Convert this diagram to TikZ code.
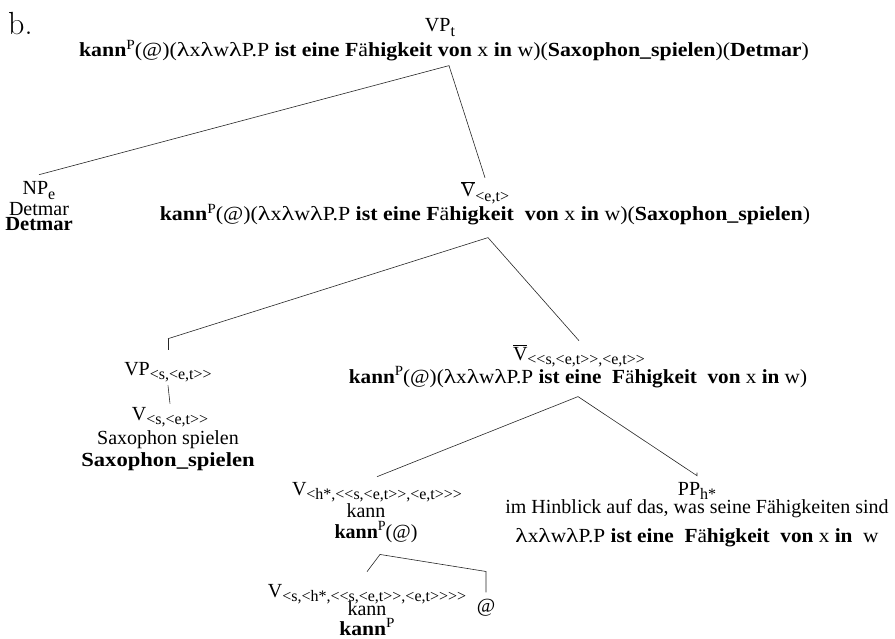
\documentclass[tikz,border=0pt]{standalone}
\usepackage{graphicx}
\usepackage{fontspec}
\setmainfont{Liberation Serif}
\newfontfamily\lmroman{Latin Modern Roman}

% small lowered / raised annotations for categories and the P superscript
\newcommand{\lowsub}[1]{\raisebox{-0.24em}{\fontsize{16}{16}\selectfont #1}}
\newcommand{\upsup}[1]{\raisebox{0.38em}{\fontsize{14}{14}\selectfont #1}}
\newcommand{\Vbar}{\ensuremath{\overline{\mbox{V}}}}
\newcommand{\Faeh}{\textbf{F}ä\textbf{higkeit}}
\newcommand{\lam}{\scalebox{1.2}[1]{λ}}
% horizontally widened line
\newcommand{\wide}[2]{\scalebox{#1}[1]{#2}}

\begin{document}
\begin{tikzpicture}[x=1pt, y=-1pt,
  font=\fontsize{20}{24}\selectfont,
  lbl/.style={anchor=base, inner sep=3pt},
  edge/.style={draw=black!85, line width=0.6pt, line join=miter}]
\useasboundingbox (0,0) rectangle (895,639);

% example label
\node[anchor=base west, inner sep=0pt, font=\lmroman\fontsize{32}{32}\selectfont] (ex) at (8,35) {b.};

% root
\node[lbl] (c1) at (440,32) {VP\lowsub{t}};
\node[lbl] (s1) at (444,57) {\wide{1.093}{\textbf{kann}\upsup{P}(@)(\lam x\lam w\lam P.P \textbf{ist eine} \Faeh\ \textbf{von} x \textbf{in} w)(\textbf{Saxophon\_spielen})(\textbf{Detmar})}};

% subject
\node[lbl] (np) at (39,195) {NP\lowsub{e}};
\node[lbl] (npw) at (39,216) {Detmar};
\node[lbl] (nps) at (39,231) {\wide{1.03}{\textbf{Detmar}}};

% V-bar <e,t>
\node[lbl] (vb1) at (485,197) {\Vbar\lowsub{<{}e,t>}};
\node[lbl] (s2) at (485,221) {\wide{1.095}{\textbf{kann}\upsup{P}(@)(\lam x\lam w\lam P.P \textbf{ist eine} \Faeh\ \ \textbf{von} x \textbf{in} w)(\textbf{Saxophon\_spielen})}};

% VP <s,<e,t>>
\node[lbl] (vp2) at (168,375) {VP\lowsub{<{}s,<{}e,t>{}>}};
\node[lbl] (v2) at (170,420) {V\lowsub{<{}s,<{}e,t>{}>}};
\node[lbl] (v2w) at (168,444) {Saxophon spielen};
\node[lbl] (v2s) at (168,466) {\wide{1.13}{\textbf{Saxophon\_spielen}}};

% V-bar <<s,<e,t>>,<e,t>>
\node[lbl] (vb2) at (579,360) {\Vbar\lowsub{<{}<{}s,<{}e,t>{}>,<{}e,t>{}>}};
\node[lbl] (s3) at (578,383) {\wide{1.06}{\textbf{kann}\upsup{P}(@)(\lam x\lam w\lam P.P \textbf{ist eine}\ \ \Faeh\ \ \textbf{von} x \textbf{in} w)}};

% modal verb with its argument
\node[lbl] (v3) at (377,495) {V\lowsub{<{}h*,<{}<{}s,<{}e,t>{}>,<{}e,t>{}>{}>}};
\node[lbl] (v3w) at (366,517) {kann};
\node[lbl] (v3s) at (376,538) {\textbf{kann}\upsup{P}(@)};

% PP h*
\node[lbl] (pp) at (697,495) {PP\lowsub{h*}};
\node[lbl] (ppw) at (697,513) {im Hinblick auf das, was seine Fähigkeiten sind};
\node[lbl] (pps) at (697,542) {\wide{1.065}{\lam x\lam w\lam P.P \textbf{ist eine}\ \ \Faeh\ \ \textbf{von} x \textbf{in}\ \ w}};

% lowest level
\node[lbl] (v4) at (367,597) {V\lowsub{<{}s,<{}h*,<{}<{}s,<{}e,t>{}>,<{}e,t>{}>{}>{}>}};
\node[lbl] (v4w) at (367,615) {kann};
\node[lbl] (v4s) at (367,635) {\wide{1.08}{\textbf{kann}\upsup{P}}};
\node[lbl] (at) at (486,612) {@};

% branching points under each mother node
\path (s1.south) ++(5,1) coordinate (j1);
\path (s2.south) ++(3,9) coordinate (j2);
\path (s3.south) ++(0,6) coordinate (j3);
\path (v3s.south) ++(4,9) coordinate (j4);

% branches
\draw[edge] ([yshift=4pt]np.north) -- (j1) -- ([yshift=1pt]vb1.north);
\draw[edge] ([yshift=20pt]vp2.north) -- ([yshift=9pt]vp2.north);
\draw[edge] ([yshift=20pt]vp2.north) -- (j2) -- ([yshift=1pt]vb2.north);
\draw[edge] (vp2.south) -- (v2.north);
\draw[edge] ([yshift=2pt]v3.north) -- (j3) -- ([yshift=3pt]pp.north) -- ([yshift=6pt]pp.north);
\draw[edge] ([yshift=9pt]v4.north) -- (j4) -- ([yshift=24pt]at.north) -- ([yshift=3pt]at.north);
\end{tikzpicture}
\end{document}
